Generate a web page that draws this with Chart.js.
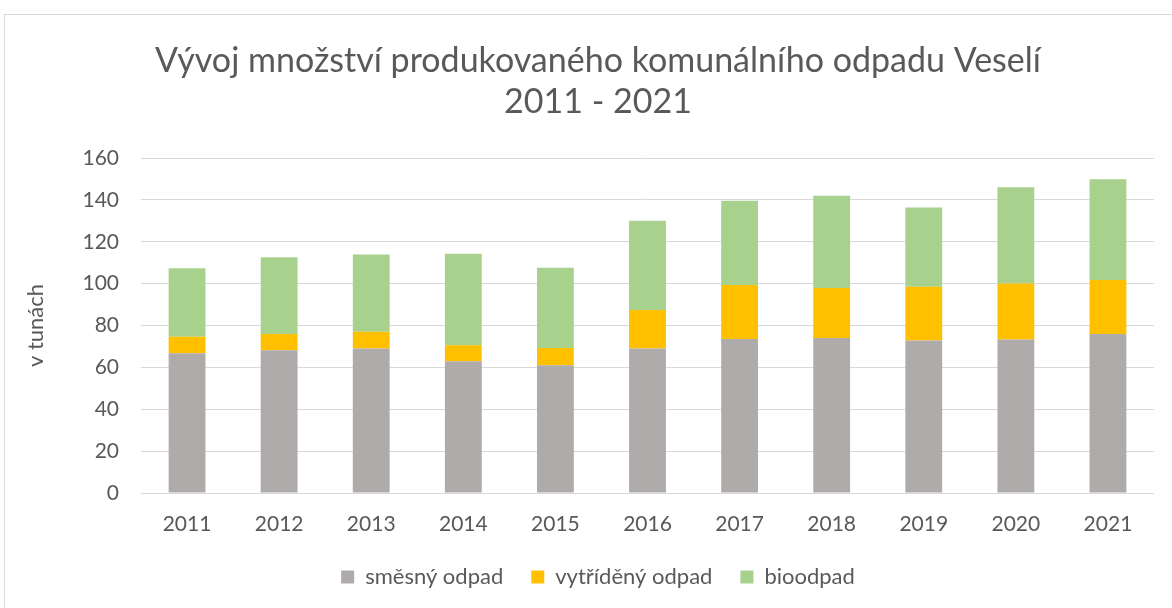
<!DOCTYPE html>
<html>
<head>
<meta charset="utf-8">
<script src="https://cdn.jsdelivr.net/npm/chart.js@4.4.1/dist/chart.umd.min.js"></script>
<style>
  html, body { margin: 0; padding: 0; background: #ffffff; overflow: hidden; }
  #wrap { position: relative; width: 1172px; height: 608px; }
  #frame { position: absolute; left: 4px; top: 14px; width: 1200px; height: 700px; border: 1px solid #d9d9d9; box-sizing: border-box; }
  #c { position: absolute; left: 0; top: 0; }
</style>
</head>
<body>
<div id="wrap">
  <div id="frame"></div>
  <canvas id="c" width="1172" height="608"></canvas>
</div>
<script>
const titleLines = ["Vývoj množství produkovaného komunálního odpadu Veselí", "2011 - 2021"];
const yAxisTitle = "v tunách";
const years = ["2011", "2012", "2013", "2014", "2015", "2016", "2017", "2018", "2019", "2020", "2021"];
const seriesNames = ["směsný odpad", "vytříděný odpad", "bioodpad"];
const smesny = [66.8, 68.2, 69.0, 62.9, 61.0, 69.0, 73.5, 74.0, 72.8, 73.3, 75.9];
const vytrideny = [7.8, 7.7, 8.0, 7.7, 8.3, 18.4, 25.9, 23.9, 25.7, 26.8, 25.8];
const bioodpad = [32.7, 36.7, 36.9, 43.7, 38.3, 42.6, 40.2, 44.1, 37.9, 45.9, 48.1];
const yMin = 0, yMax = 160, yStep = 20;

const textColor = "#595959";
const fontFam = "Lato, 'Open Sans', sans-serif";

const chart = new Chart(document.getElementById("c"), {
  type: "bar",
  data: {
    labels: years,
    datasets: [
      { label: seriesNames[0], data: smesny, backgroundColor: "#afabab" },
      { label: seriesNames[1], data: vytrideny, backgroundColor: "#ffc000" },
      { label: seriesNames[2], data: bioodpad, backgroundColor: "#a9d18e" }
    ]
  },
  options: {
    responsive: false,
    animation: false,
    devicePixelRatio: 1,
    layout: { padding: { left: 42, right: 18, top: 0, bottom: 10 } },
    datasets: { bar: { categoryPercentage: 1, barPercentage: 0.4, borderWidth: 0 } },
    plugins: {
      title: {
        display: true,
        text: titleLines,
        color: textColor,
        font: { family: fontFam, size: 34, weight: "normal", lineHeight: "41px" },
        padding: { top: 41, bottom: 35 }
      },
      legend: {
        position: "bottom",
        labels: {
          color: textColor,
          font: { family: fontFam, size: 22 },
          boxWidth: 13, boxHeight: 13,
          padding: 28
        }
      },
      tooltip: { enabled: false }
    },
    scales: {
      x: {
        stacked: true,
        grid: { display: false, drawTicks: false },
        border: { display: false },
        ticks: { color: textColor, font: { family: fontFam, size: 21 }, padding: 19, maxRotation: 0 },
        afterFit: (s) => { s.height = 45; }
      },
      y: {
        stacked: true,
        min: yMin, max: yMax,
        grid: { color: "#d9d9d9", lineWidth: 1, drawTicks: false },
        border: { display: false },
        ticks: { stepSize: yStep, color: textColor, font: { family: fontFam, size: 21 }, padding: 22 },
        title: { display: true, text: yAxisTitle, color: textColor, font: { family: fontFam, size: 22 }, padding: { top: -19, bottom: 0 } },
        afterFit: (s) => { s.width = 99; }
      }
    }
  }
});
</script>
</body>
</html>
